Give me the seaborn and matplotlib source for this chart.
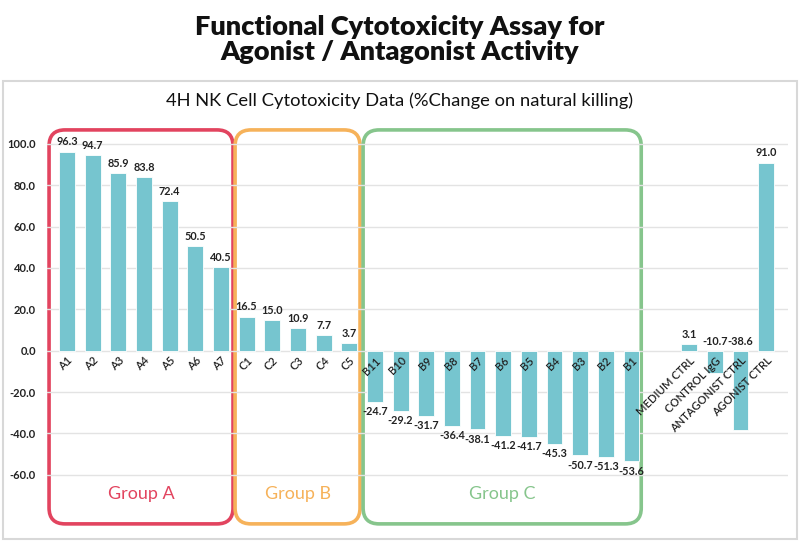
import numpy as np
import matplotlib
matplotlib.use('Agg')
import matplotlib.pyplot as plt
import seaborn as sns
from matplotlib.patches import FancyBboxPatch, Rectangle

# chart data
labels = ['A1', 'A2', 'A3', 'A4', 'A5', 'A6', 'A7',
          'C1', 'C2', 'C3', 'C4', 'C5',
          'B11', 'B10', 'B9', 'B8', 'B7', 'B6', 'B5', 'B4', 'B3', 'B2', 'B1',
          'MEDIUM CTRL', 'CONTROL IgG', 'ANTAGONIST CTRL', 'AGONIST CTRL']
values = [96.3, 94.7, 85.9, 83.8, 72.4, 50.5, 40.5,
          16.5, 15.0, 10.9, 7.7, 3.7,
          -24.7, -29.2, -31.7, -36.4, -38.1, -41.2, -41.7, -45.3, -50.7, -51.3, -53.6,
          3.1, -10.7, -38.6, 91.0]
group_names = ['Group A', 'Group B', 'Group C']
group_sizes = [7, 5, 11]
group_colors = ['#E2445F', '#F6B25A', '#86C58C']
n_ctrl = 4

bar_color = '#76C5CF'
yticks = np.arange(-60, 101, 20)

sns.set_theme(style='white')
plt.rcParams['font.family'] = ['Lato', 'DejaVu Sans']

fig = plt.figure(figsize=(8, 5.43), dpi=100)
ax = fig.add_axes([47 / 800, 6.3 / 543, (788 - 47) / 800, 413.4 / 543])
ax.patch.set_alpha(0)

# bar positions: controls sit a little apart from the groups
pos = np.arange(len(values), dtype=float)
pos[-n_ctrl:] += 1.25

# gridlines under the bars, tick labels on top of them
for t in yticks:
    ax.axhline(t, color='#E3E3E3', linewidth=1, zorder=0)

sns.barplot(x=pos, y=values, native_scale=True, width=0.62, color=bar_color,
            saturation=1, edgecolor='white', linewidth=0.6, ax=ax)

ax.set_axisbelow(False)
ax.grid(False)
ax.set_xlim(-0.78, 28.1)
ax.set_ylim(-90, 110)
ax.set_yticks(yticks)
ax.set_yticklabels([f'{t:.1f}' for t in yticks],
                   fontsize=8, fontweight='bold', color='#222222')
for s in ax.spines.values():
    s.set_visible(False)
ax.spines['bottom'].set_position(('data', 0))
ax.set_xticks(pos)
ax.set_xticklabels(labels, rotation=45, ha='right', rotation_mode='anchor',
                   fontsize=8, fontweight='semibold', color='#222222')
ax.tick_params(axis='x', length=0, pad=3)
ax.tick_params(axis='y', length=0, pad=8)
ax.set_xlabel('')
ax.set_ylabel('')

# value labels
n_grp = sum(group_sizes)
for i, (x, v) in enumerate(zip(pos, values)):
    if v >= 0 or i >= n_grp:
        ax.text(x, max(v, 0) + 2, f'{v:.1f}', ha='center', va='bottom',
                fontsize=7.8, fontweight='bold', color='#222222')
    else:
        ax.text(x, v - 2, f'{v:.1f}', ha='center', va='top',
                fontsize=7.8, fontweight='bold', color='#222222')

# rounded group boxes drawn in inches so corners stay round, behind the axes
start = 0
pads = [(0.70, 0.47), (0.45, 0.42), (0.46, 0.38)]
for name, size, col, (pl, pr) in zip(group_names, group_sizes, group_colors, pads):
    x0 = pos[start] - pl
    x1 = pos[start + size - 1] + pr
    (px0, py0) = ax.transData.transform((x0, -83.8)) / fig.dpi
    (px1, py1) = ax.transData.transform((x1, 106.8)) / fig.dpi
    box = FancyBboxPatch((px0, py0), px1 - px0, py1 - py0,
                         boxstyle='round,pad=0,rounding_size=0.16',
                         transform=fig.dpi_scale_trans, fill=False,
                         edgecolor=col, linewidth=2.6, clip_on=False, zorder=-1)
    fig.add_artist(box)
    ax.text((x0 + x1) / 2, -69.5, name, ha='center', va='center',
            fontsize=13, color=col)
    start += size

# panel frame
fig.add_artist(Rectangle((3 / 800, 4 / 543), 794 / 800, 458 / 543,
                         transform=fig.transFigure, fill=False,
                         edgecolor='#D8D8D8', linewidth=1.5, zorder=-1))

fig.text(0.5, 0.928, 'Functional Cytotoxicity Assay for\nAgonist / Antagonist Activity',
         ha='center', va='center', fontsize=19.5, fontweight='heavy',
         color='#111111', linespacing=1.05)
fig.text(0.5, 0.814, '4H NK Cell Cytotoxicity Data (%Change on natural killing)',
         ha='center', va='center', fontsize=13.2, color='#111111')

fig.savefig('out.png', dpi=100)
